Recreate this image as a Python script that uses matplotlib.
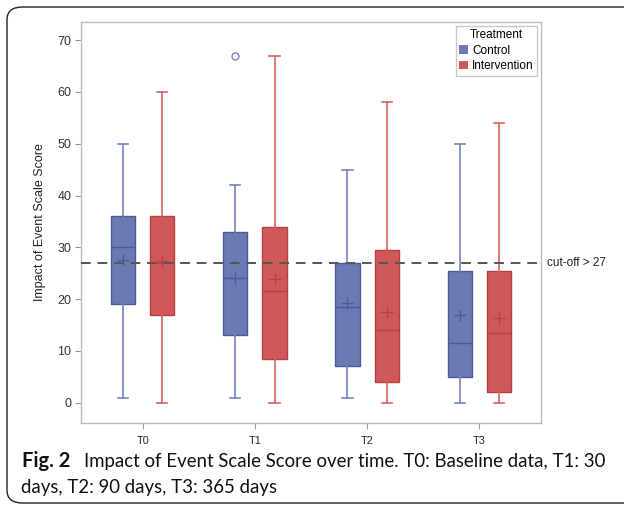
import matplotlib
matplotlib.use("Agg")
import matplotlib.pyplot as plt
from matplotlib.patches import FancyBboxPatch, Patch

plt.rcParams['font.family'] = ['Liberation Sans', 'DejaVu Sans']

timepoints = ["T0", "T1", "T2", "T3"]
groups = ["Control", "Intervention"]

ctrl_low = [1, 1, 1, 0]
ctrl_q1 = [19, 13, 7, 5]
ctrl_med = [30, 24, 18.5, 11.5]
ctrl_q3 = [36, 33, 27, 25.5]
ctrl_high = [50, 42, 45, 50]
ctrl_mean = [27.5, 24.1, 19.2, 16.9]
ctrl_outliers = [[], [67], [], []]

int_low = [0, 0, 0, 0]
int_q1 = [17, 8.5, 4, 2]
int_med = [27, 21.5, 14, 13.5]
int_q3 = [36, 34, 29.5, 25.5]
int_high = [60, 67, 58, 54]
int_mean = [27.4, 23.8, 17.6, 16.3]
int_outliers = [[], [], [], []]

cutoff = 27
cutoff_label = "cut-off > 27"
ylabel = "Impact of Event Scale Score"
caption_bold = "Fig. 2"
caption_text = "Impact of Event Scale Score over time. T0: Baseline data, T1: 30"
caption_text2 = "days, T2: 90 days, T3: 365 days"

W, H = 624, 509
fig = plt.figure(figsize=(W / 100, H / 100), dpi=100)

# outer rounded frame
frame = FancyBboxPatch((7 / W, 6 / H), 640 / W, 496 / H,
                       boxstyle="round,pad=0,rounding_size=0.025",
                       transform=fig.transFigure, fill=False,
                       edgecolor="#222222", linewidth=1.0, clip_on=False)
fig.add_artist(frame)

ax = fig.add_axes([81 / W, (H - 423) / H, 460 / W, 401 / H])

def stats(low, q1, med, q3, high, mean, outl):
    out = []
    for i in range(len(low)):
        out.append(dict(whislo=low[i], q1=q1[i], med=med[i], q3=q3[i],
                        whishi=high[i], mean=mean[i], fliers=outl[i]))
    return out

offset = 0.175
width = 0.215
capw = 0.09

specs = [
    (stats(ctrl_low, ctrl_q1, ctrl_med, ctrl_q3, ctrl_high, ctrl_mean, ctrl_outliers),
     -offset, "#6B7AB3", "#4A5A9C", "#7384C4"),
    (stats(int_low, int_q1, int_med, int_q3, int_high, int_mean, int_outliers),
     offset, "#D05858", "#B84040", "#D26464"),
]
for st, off, fill, edge, wcol in specs:
    pos = [i + off for i in range(len(timepoints))]
    ax.bxp(st, positions=pos, widths=width, capwidths=capw, patch_artist=True,
           showmeans=True, showfliers=True,
           boxprops=dict(facecolor=fill, edgecolor=edge, linewidth=1.0),
           medianprops=dict(color=edge, linewidth=1.0),
           whiskerprops=dict(color=wcol, linewidth=1.2),
           capprops=dict(color=wcol, linewidth=1.2),
           meanprops=dict(marker='+', markeredgecolor=edge, markersize=9, markeredgewidth=0.9),
           flierprops=dict(marker='o', markerfacecolor='none', markeredgecolor=wcol,
                           markersize=5, markeredgewidth=1.0),
           zorder=3)

ax.axhline(cutoff, color="#555555", linestyle=(0, (5, 3.5)), linewidth=1.4, zorder=4)
ax.text(1.012, cutoff, cutoff_label, transform=ax.get_yaxis_transform(),
        va='center', ha='left', fontsize=8.5, color="#222222")

ax.set_xlim(-0.55, 3.55)
ax.set_ylim(-3.92, 73.5)
ax.set_xticks(range(len(timepoints)))
ax.set_xticklabels(timepoints, fontsize=7.8, color="#222222")
ax.set_yticks(range(0, 71, 10))
ax.tick_params(axis='y', labelsize=9, labelcolor="#333333", color="#999999", length=4, pad=3)
ax.tick_params(axis='x', color="#999999", length=4, pad=5)
for s in ax.spines.values():
    s.set_color("#BBBBBB")
    s.set_linewidth(1.0)
ax.set_ylabel(ylabel, fontsize=9, color="#222222", labelpad=8)

handles = [Patch(facecolor="#6B7AB3", edgecolor="none", label=groups[0]),
           Patch(facecolor="#D05858", edgecolor="none", label=groups[1])]
leg = ax.legend(handles=handles, title="Treatment", loc='upper right',
                fontsize=8.5, title_fontsize=8.5, frameon=True, fancybox=False,
                borderaxespad=0.3, handlelength=0.7, handleheight=0.7,
                handletextpad=0.4, labelspacing=0.3, borderpad=0.3)
leg.get_frame().set_edgecolor("#BBBBBB")
leg.get_frame().set_linewidth(1.0)

cap_font = ['Lato', 'DejaVu Sans']
fig.text(22 / W, 1 - 467 / H, caption_bold, fontsize=14.5, fontweight='bold',
         family=cap_font, va='baseline', ha='left', color="#111111")
fig.text(84 / W, 1 - 467 / H, caption_text, fontsize=13.4,
         family=cap_font, va='baseline', ha='left', color="#111111")
fig.text(21 / W, 1 - 493 / H, caption_text2, fontsize=13.4,
         family=cap_font, va='baseline', ha='left', color="#111111")

fig.savefig("out.png", dpi=100)
